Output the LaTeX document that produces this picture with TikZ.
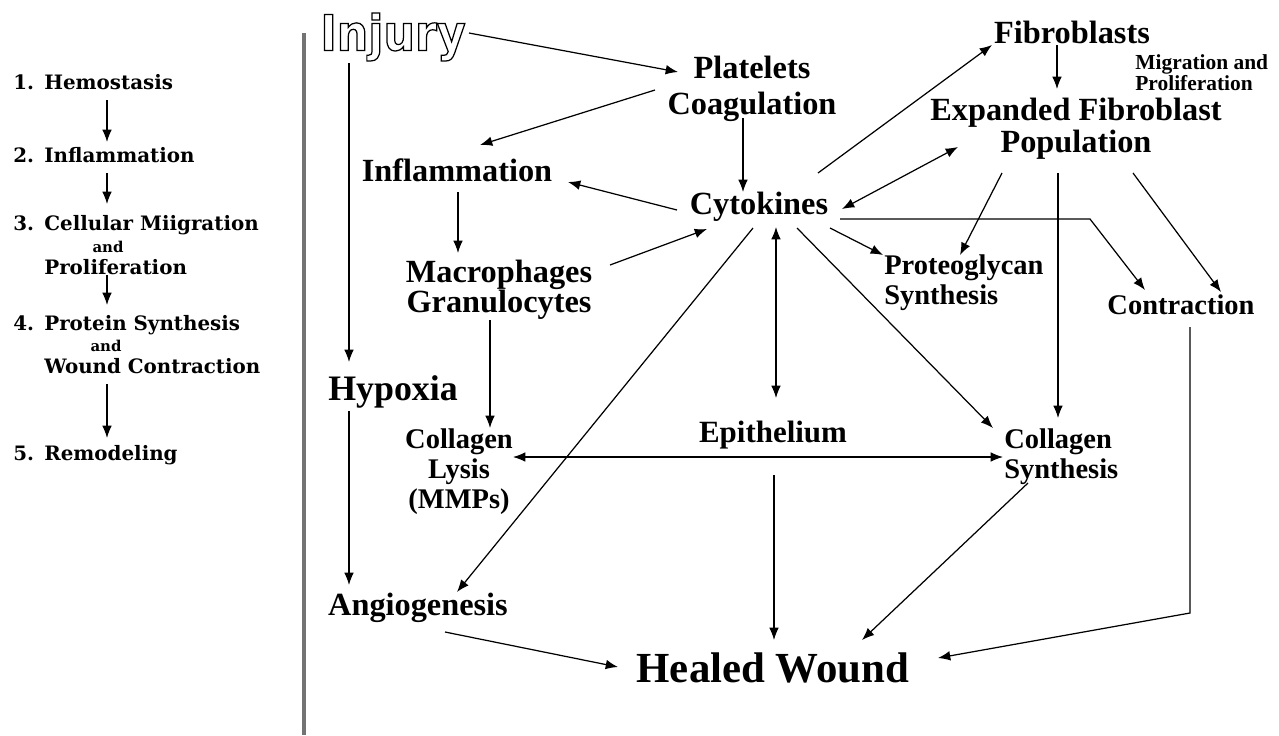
\documentclass[tikz,border=0pt]{standalone}
\usepackage{fontspec}
\setmainfont{Liberation Serif}
\newfontfamily\stagefont{DejaVu Serif}
\newfontfamily\injuryfont{DejaVu Sans Condensed}
\usetikzlibrary{arrows.meta,calc}
\newcommand\outlined[1]{\special{pdf:literal direct 1 Tr 0.7 w}#1\special{pdf:literal direct 0 Tr}}

\begin{document}
\begin{tikzpicture}[x=0.02cm,y=-0.02cm,
  term/.style={font=\bfseries\fontsize{18.4}{18.1}\selectfont,inner sep=0pt,align=center},
  minor/.style={font=\bfseries\fontsize{16.2}{17}\selectfont,inner sep=0pt,align=left},
  stage/.style={font=\stagefont\bfseries\fontsize{11.3}{13}\selectfont,inner sep=0pt,anchor=west},
  conj/.style={font=\stagefont\bfseries\fontsize{8.5}{9}\selectfont,inner sep=0pt},
  arr/.style={-{Latex[length=7pt,width=5.5pt]},line width=0.7pt},
  darr/.style={{Latex[length=7pt,width=5.5pt]}-{Latex[length=7pt,width=5.5pt]},line width=0.7pt},
]
\useasboundingbox (0,0) rectangle (1279,735);

% stages of healing
\node[stage] (s1) at (13,82) {\makebox[0.62cm][l]{1.}Hemostasis};
\node[stage] (s2) at (13,155) {\makebox[0.62cm][l]{2.}Inflammation};
\node[stage] (s3) at (13,225) {\makebox[0.62cm][l]{3.}Cellular Miigration};
\node[conj] (s3and) at (108,247) {and};
\node[stage] (s3b) at (44,267) {Proliferation};
\node[stage] (s4) at (13,325) {\makebox[0.62cm][l]{4.}Protein Synthesis};
\node[conj] (s4and) at (106,346) {and};
\node[stage] (s4b) at (44,366) {Wound Contraction};
\node[stage] (s5) at (13,455) {\makebox[0.62cm][l]{5.}Remodeling};

\draw[arr] ($(s1.west)+(94,18)$) -- ($(s2.west)+(94,-13)$);
\draw[arr] ($(s2.west)+(94,18)$) -- ($(s3.west)+(94,-21)$);
\draw[arr] ($(s3b.west)+(63,8)$) -- ($(s4.west)+(94,-20)$);
\draw[arr] ($(s4b.west)+(63,18)$) -- ($(s5.west)+(94,-17)$);

% divider
\draw[line width=0.08cm,black!55] (304,33) -- (304,735);

% cascade
\node[font=\injuryfont\bfseries\fontsize{28}{30}\selectfont,inner sep=0pt] (inj) at (393,37) {\outlined{Injury}};
\node[term] (plt) at (752,89) {Platelets\\[2.3pt]Coagulation};
\node[term] (fib) at (1072,32) {Fibroblasts};
\node[font=\bfseries\fontsize{12.2}{11.9}\selectfont,inner sep=0pt,align=left,anchor=west] (mig) at (1135,73) {Migration and\\Proliferation};
\node[term] (efp) at (1076,129) {Expanded Fibroblast\\Population};
\node[term] (infl) at (457,170) {Inflammation};
\node[term] (cyto) at (759,207) {Cytokines};
\node[term] (mac) at (499,290) {Macrophages\\[-1pt]Granulocytes};
\node[minor,anchor=west] (prot) at (884,283) {Proteoglycan\\Synthesis};
\node[minor] (contr) at (1181,305) {Contraction};
\node[term,font=\bfseries\fontsize{20.4}{22}\selectfont] (hyp) at (393,392) {Hypoxia};
\node[minor,align=center] (clys) at (459,472) {Collagen\\Lysis\\(MMPs)};
\node[term,font=\bfseries\fontsize{17.6}{18}\selectfont] (epi) at (773,435) {Epithelium};
\node[minor,anchor=west] (csyn) at (1004,457) {Collagen\\Synthesis};
\node[term] (ang) at (418,608) {Angiogenesis};
\node[term,font=\bfseries\fontsize{24.4}{26}\selectfont] (heal) at (773,668) {Healed Wound};

\draw[arr] ($(inj)+(76,-4)$) -- ($(plt)+(-74,-17)$);
\draw[arr] ($(plt)+(-97,1)$) -- ($(infl)+(23,-25)$);
\draw[arr] ($(plt)+(-9,29)$) -- ($(cyto)+(-16,-15)$);
\draw[arr] ($(cyto)+(-82,3)$) -- ($(infl)+(111,12)$);
\draw[arr] ($(infl)+(1,22)$) -- ($(mac)+(-41,-37)$);
\draw[arr] ($(mac)+(111,-25)$) -- ($(cyto)+(-52,22)$);
\draw[arr] ($(cyto)+(59,-34)$) -- ($(fib)+(-80,13)$);
\draw[arr] ($(fib)+(-15,13)$) -- ($(efp)+(-19,-40)$);
\draw[darr] ($(cyto)+(83,2)$) -- ($(efp)+(-118,18)$);
\draw[arr] ($(cyto)+(81,12)$) -- ++(250,0) -- ($(contr)+(-36,-15)$);
\draw[arr] ($(cyto)+(71,21)$) -- ($(prot.west)+(-1,-28)$);
\draw[arr] ($(efp)+(-74,44)$) -- ($(prot.west)+(76,-28)$);
\draw[arr] ($(efp)+(-18,44)$) -- ($(csyn.west)+(54,-39)$);
\draw[arr] ($(efp)+(57,44)$) -- ($(contr)+(40,-13)$);
\draw[arr] ($(cyto)+(38,21)$) -- ($(csyn.west)+(-11,-29)$);
\draw[darr] ($(cyto)+(17,20)$) -- ($(epi)+(3,-37)$);
\draw[arr] ($(cyto)+(-6,21)$) -- ($(ang)+(39,-16)$);
\draw[arr] ($(inj)+(-44,26)$) -- ($(hyp)+(-44,-30)$);
\draw[arr] ($(hyp)+(-44,19)$) -- ($(ang)+(-69,-23)$);
\draw[arr] ($(mac)+(-9,30)$) -- ($(clys)+(31,-44)$);
\draw[darr] ($(clys)+(54,-15)$) -- ($(csyn.west)+(-1,0)$);
\draw[arr] ($(epi)+(1,40)$) -- ($(heal)+(1,-28)$);
\draw[arr] ($(ang)+(27,24)$) -- ($(heal)+(-155,-1)$);
\draw[arr] ($(csyn.west)+(24,26)$) -- ($(heal)+(89,-28)$);
\draw[arr] ($(contr)+(9,22)$) -- ++(0,286) -- ($(heal)+(165,-10)$);
\end{tikzpicture}
\end{document}
